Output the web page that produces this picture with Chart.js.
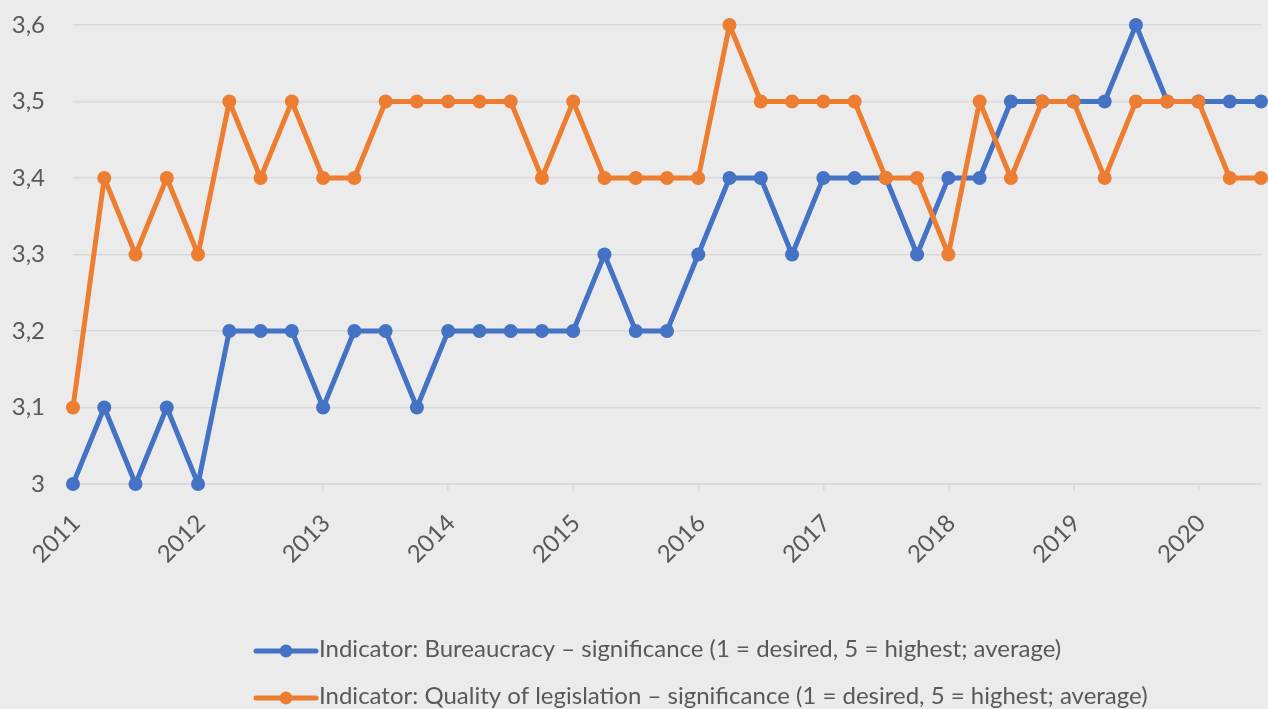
<!DOCTYPE html>
<html>
<head>
<meta charset="utf-8">
<script src="https://cdn.jsdelivr.net/npm/chart.js@4.4.1/dist/chart.umd.min.js"></script>
<style>
  html, body { margin: 0; padding: 0; background: #ebebeb; overflow: hidden; }
  #wrap { width: 1268px; height: 709px; }
  canvas { display: block; background: #ebebeb; }
</style>
</head>
<body>
<div id="wrap"><canvas id="c" width="1268" height="709"></canvas></div>
<script>
// Quarterly periods, 2011 Q1 – 2020 Q3
const periods = [
  '2011-Q1', '2011-Q2', '2011-Q3', '2011-Q4',
  '2012-Q1', '2012-Q2', '2012-Q3', '2012-Q4',
  '2013-Q1', '2013-Q2', '2013-Q3', '2013-Q4',
  '2014-Q1', '2014-Q2', '2014-Q3', '2014-Q4',
  '2015-Q1', '2015-Q2', '2015-Q3', '2015-Q4',
  '2016-Q1', '2016-Q2', '2016-Q3', '2016-Q4',
  '2017-Q1', '2017-Q2', '2017-Q3', '2017-Q4',
  '2018-Q1', '2018-Q2', '2018-Q3', '2018-Q4',
  '2019-Q1', '2019-Q2', '2019-Q3', '2019-Q4',
  '2020-Q1', '2020-Q2', '2020-Q3'
];

// Average significance scores (1 = desired, 5 = highest)
const bureaucracy = [
  3.0, 3.1, 3.0, 3.1,
  3.0, 3.2, 3.2, 3.2,
  3.1, 3.2, 3.2, 3.1,
  3.2, 3.2, 3.2, 3.2,
  3.2, 3.3, 3.2, 3.2,
  3.3, 3.4, 3.4, 3.3,
  3.4, 3.4, 3.4, 3.3,
  3.4, 3.4, 3.5, 3.5,
  3.5, 3.5, 3.6, 3.5,
  3.5, 3.5, 3.5
];
const legislation = [
  3.1, 3.4, 3.3, 3.4,
  3.3, 3.5, 3.4, 3.5,
  3.4, 3.4, 3.5, 3.5,
  3.5, 3.5, 3.5, 3.4,
  3.5, 3.4, 3.4, 3.4,
  3.4, 3.6, 3.5, 3.5,
  3.5, 3.5, 3.4, 3.4,
  3.3, 3.5, 3.4, 3.5,
  3.5, 3.4, 3.5, 3.5,
  3.5, 3.4, 3.4
];

const seriesLabels = [
  'Indicator: Bureaucracy \u2013 significance (1 = desired, 5 = highest; average)',
  'Indicator: Quality of legislation \u2013 significance (1 = desired, 5 = highest; average)'
];

const BLUE = '#4472c4';
const ORANGE = '#ed7d31';
const TEXT = '#595959';
const GRID = '#d9d9d9';
const FONT = 'Lato';
const FONT_SIZE = 24;

const decimalFmt = new Intl.NumberFormat('de-DE', { maximumFractionDigits: 1 });
const isYearStart = i => (periods[i] || '').endsWith('Q1');

// Series key drawn under the plot: line sample with marker, then label
const seriesKey = {
  id: 'seriesKey',
  afterDraw(chart, args, opts) {
    const { ctx } = chart;
    ctx.save();
    ctx.font = `${opts.size}px ${FONT}`;
    ctx.textBaseline = 'alphabetic';
    ctx.textAlign = 'left';
    chart.data.datasets.forEach((ds, i) => {
      const base = opts.firstBaseline + i * opts.rowGap;
      const mid = base - 6;
      const x0 = opts.left;
      ctx.strokeStyle = ds.borderColor;
      ctx.lineWidth = 5;
      ctx.lineCap = 'round';
      ctx.beginPath();
      ctx.moveTo(x0 + 2, mid);
      ctx.lineTo(x0 + opts.sample - 2, mid);
      ctx.stroke();
      ctx.fillStyle = ds.borderColor;
      ctx.beginPath();
      ctx.arc(x0 + opts.sample / 2, mid, 6.5, 0, Math.PI * 2);
      ctx.fill();
      ctx.fillStyle = TEXT;
      ctx.fillText(ds.label, x0 + opts.sample + 1, base);
    });
    ctx.restore();
  }
};

new Chart(document.getElementById('c'), {
  type: 'line',
  data: {
    labels: periods,
    datasets: [
      {
        label: seriesLabels[0],
        data: bureaucracy,
        borderColor: BLUE,
        backgroundColor: BLUE,
        pointBackgroundColor: BLUE,
        clip: false,
        order: 1
      },
      {
        label: seriesLabels[1],
        data: legislation,
        borderColor: ORANGE,
        backgroundColor: ORANGE,
        pointBackgroundColor: ORANGE,
        clip: false,
        order: 0
      }
    ]
  },
  options: {
    responsive: false,
    animation: false,
    devicePixelRatio: 1,
    events: [],
    layout: { padding: { top: 25, right: 0, bottom: 145, left: 0 } },
    elements: {
      line: { borderWidth: 5, borderJoinStyle: 'round', borderCapStyle: 'round', tension: 0 },
      point: { radius: 7, hoverRadius: 7, borderWidth: 0 }
    },
    plugins: {
      legend: { display: false },
      tooltip: { enabled: false },
      seriesKey: { left: 254, sample: 64, firstBaseline: 657, rowGap: 47, size: FONT_SIZE }
    },
    scales: {
      x: {
        type: 'category',
        offset: false,
        border: { display: true, color: GRID, width: 1.5 },
        grid: {
          drawOnChartArea: false,
          drawTicks: true,
          tickLength: 7,
          lineWidth: 1.5,
          color: c => isYearStart(c.index) ? GRID : 'rgba(0,0,0,0)'
        },
        ticks: {
          autoSkip: false,
          minRotation: 45,
          maxRotation: 45,
          padding: 18,
          labelOffset: 3,
          color: TEXT,
          font: { family: FONT, size: FONT_SIZE },
          callback: (v, i) => isYearStart(i) ? periods[i].slice(0, 4) : ''
        },
        afterFit: s => { s.height = 80; s.paddingLeft = 0; s.paddingRight = 0; }
      },
      y: {
        min: 3,
        max: 3.6,
        border: { display: false },
        grid: { color: GRID, lineWidth: 1.5, drawTicks: false },
        ticks: {
          stepSize: 0.1,
          padding: 28,
          color: TEXT,
          font: { family: FONT, size: FONT_SIZE },
          callback: v => decimalFmt.format(v)
        },
        afterFit: s => { s.width = 73; s.paddingTop = 0; s.paddingBottom = 0; }
      }
    }
  },
  plugins: [seriesKey]
});
</script>
</body>
</html>
